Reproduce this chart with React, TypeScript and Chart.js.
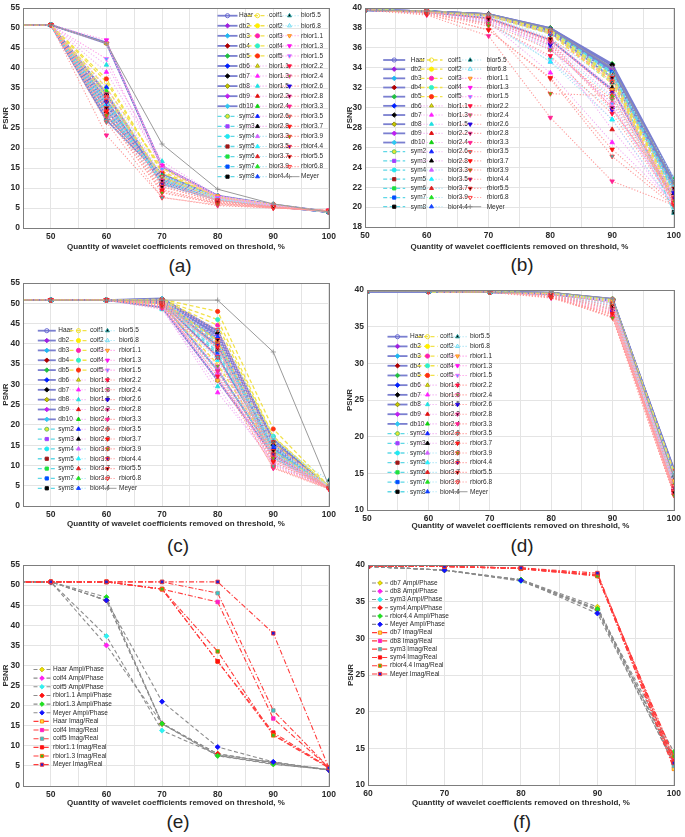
import React, { useEffect, useRef } from 'react';
import { Chart, registerables } from 'chart.js';
Chart.register(...registerables);

const FONT = "'Liberation Sans', Arial, Helvetica, sans-serif";

// ---------------- data ----------------
const WAVELETS = [
  'Haar', 'db2', 'db3', 'db4', 'db5', 'db6', 'db7', 'db8', 'db9', 'db10',
  'sym2', 'sym3', 'sym4', 'sym5', 'sym6', 'sym7', 'sym8',
  'coif1', 'coif2', 'coif3', 'coif4', 'coif5',
  'bior1.1', 'bior1.3', 'bior1.5', 'bior2.2', 'bior2.4', 'bior2.6', 'bior2.8',
  'bior3.3', 'bior3.5', 'bior3.7', 'bior3.9', 'bior4.4', 'bior5.5', 'bior6.8',
  'rbior1.1', 'rbior1.3', 'rbior1.5', 'rbior2.2', 'rbior2.4', 'rbior2.6', 'rbior2.8',
  'rbior3.3', 'rbior3.5', 'rbior3.7', 'rbior3.9', 'rbior4.4', 'rbior5.5', 'rbior6.8',
  'Meyer',
];

const X_A = [40, 50, 60, 70, 80, 90, 100];
const X_B = [50, 60, 70, 80, 90, 100];
const X_C = [40, 50, 60, 70, 80, 90, 100];
const X_D = [50, 60, 70, 80, 90, 100];
const X_E = [40, 50, 60, 70, 80, 90, 100];
const X_F = [60, 70, 80, 90, 100];

const X_LABELS_50 = [50, 60, 70, 80, 90, 100];
const X_LABELS_60 = [60, 70, 80, 90, 100];

const PSNR_A = [
  [50.8, 50.8, 46.2, 15.5, 8.0, 5.8, 4.0],
  [50.8, 50.8, 46.4, 15.3, 8.1, 5.9, 4.1],
  [50.8, 50.8, 30.5, 13.0, 7.6, 5.7, 4.1],
  [50.8, 50.8, 33.7, 12.0, 7.3, 5.6, 4.0],
  [50.8, 50.8, 29.5, 12.5, 7.5, 5.6, 4.1],
  [50.8, 50.8, 31.0, 12.2, 7.4, 5.5, 4.0],
  [50.8, 50.8, 33.5, 11.5, 7.2, 5.5, 4.0],
  [50.8, 50.8, 28.0, 13.5, 7.7, 5.7, 4.1],
  [50.8, 50.8, 32.0, 11.0, 7.1, 5.4, 4.0],
  [50.8, 50.8, 27.0, 12.8, 7.6, 5.6, 4.0],
  [50.8, 50.8, 31.5, 13.2, 7.6, 5.7, 4.1],
  [50.8, 50.8, 32.5, 12.5, 7.4, 5.6, 4.0],
  [50.8, 50.8, 30.0, 11.8, 7.3, 5.5, 4.0],
  [50.8, 50.8, 33.0, 12.3, 7.5, 5.6, 4.1],
  [50.8, 50.8, 28.5, 13.0, 7.6, 5.7, 4.0],
  [50.8, 50.8, 31.2, 11.2, 7.2, 5.5, 4.0],
  [50.8, 50.8, 29.0, 12.0, 7.4, 5.6, 4.0],
  [50.8, 50.8, 36.5, 14.2, 7.8, 5.8, 4.1],
  [50.8, 50.8, 34.0, 12.5, 7.5, 5.6, 4.0],
  [50.8, 50.8, 32.8, 12.8, 7.4, 5.6, 4.0],
  [50.8, 50.8, 35.0, 15.0, 7.7, 5.8, 4.0],
  [50.8, 50.8, 37.3, 13.8, 7.8, 5.9, 4.0],
  [50.8, 50.8, 46.2, 15.5, 8.0, 5.8, 4.0],
  [50.8, 50.8, 39.0, 15.8, 7.9, 5.8, 4.1],
  [50.8, 50.8, 40.8, 16.7, 8.0, 5.9, 4.1],
  [50.8, 50.8, 29.8, 11.0, 7.0, 5.5, 4.0],
  [50.8, 50.8, 30.5, 11.5, 7.1, 5.5, 4.0],
  [50.8, 50.8, 35.2, 13.2, 7.5, 5.6, 4.1],
  [50.8, 50.8, 33.6, 12.0, 7.3, 5.5, 4.0],
  [50.8, 50.8, 28.0, 10.5, 6.8, 5.4, 4.0],
  [50.8, 50.8, 31.0, 11.5, 7.0, 5.5, 4.0],
  [50.8, 50.8, 33.0, 12.4, 7.2, 5.6, 4.0],
  [50.8, 50.8, 34.2, 13.0, 7.4, 5.6, 4.1],
  [50.8, 50.8, 30.2, 11.8, 7.3, 5.5, 4.0],
  [50.8, 50.8, 27.5, 11.0, 7.1, 5.4, 4.0],
  [50.8, 50.8, 32.3, 12.6, 7.5, 5.6, 4.1],
  [50.8, 50.8, 46.2, 15.5, 8.0, 5.8, 4.0],
  [50.8, 50.8, 47.0, 15.6, 7.6, 5.6, 4.2],
  [50.8, 50.8, 42.3, 14.8, 7.5, 5.6, 4.1],
  [50.8, 50.8, 29.3, 9.6, 6.3, 5.2, 4.3],
  [50.8, 50.8, 27.8, 9.0, 6.0, 5.1, 4.2],
  [50.8, 50.8, 31.5, 10.5, 6.5, 5.2, 4.1],
  [50.8, 50.8, 33.5, 11.8, 6.8, 5.3, 4.1],
  [50.8, 50.8, 23.2, 7.7, 5.6, 5.0, 4.5],
  [50.8, 50.8, 26.5, 7.6, 5.8, 5.0, 4.4],
  [50.8, 50.8, 29.0, 9.4, 6.2, 5.1, 4.3],
  [50.8, 50.8, 28.2, 8.8, 6.1, 5.1, 4.3],
  [50.8, 50.8, 31.8, 11.0, 6.9, 5.3, 4.1],
  [50.8, 50.8, 30.0, 10.3, 6.6, 5.2, 4.2],
  [50.8, 50.8, 32.8, 12.8, 7.0, 5.4, 4.3],
  [50.8, 50.8, 46.2, 21.0, 9.7, 6.0, 4.0],
];

const PSNR_B = [
  [39.8, 39.6, 39.0, 36.8, 31.8, 20.9],
  [39.8, 39.7, 39.3, 37.6, 33.0, 21.8],
  [39.8, 39.7, 39.3, 37.9, 33.8, 22.3],
  [39.8, 39.7, 39.4, 38.0, 34.2, 22.6],
  [39.8, 39.7, 39.4, 38.0, 34.4, 22.8],
  [39.8, 39.7, 39.4, 37.9, 34.0, 22.5],
  [39.8, 39.7, 39.4, 37.8, 34.3, 22.4],
  [39.8, 39.7, 39.3, 37.7, 33.7, 22.2],
  [39.8, 39.7, 39.3, 37.6, 33.9, 22.0],
  [39.8, 39.7, 39.3, 37.5, 33.5, 21.9],
  [39.8, 39.7, 39.3, 37.6, 33.0, 21.8],
  [39.8, 39.7, 39.3, 37.7, 33.2, 21.5],
  [39.8, 39.7, 39.3, 37.8, 33.5, 22.0],
  [39.8, 39.7, 39.3, 37.6, 33.1, 21.3],
  [39.8, 39.7, 39.3, 37.7, 33.4, 21.0],
  [39.8, 39.7, 39.3, 37.8, 33.6, 21.6],
  [39.8, 39.7, 39.3, 37.7, 33.3, 19.5],
  [39.8, 39.6, 39.2, 37.4, 32.4, 20.4],
  [39.8, 39.7, 39.3, 37.6, 32.8, 20.8],
  [39.8, 39.7, 39.3, 37.5, 32.6, 20.5],
  [39.8, 39.7, 39.3, 37.7, 33.0, 21.0],
  [39.8, 39.7, 39.3, 37.8, 33.2, 21.2],
  [39.8, 39.6, 39.0, 36.8, 31.8, 20.9],
  [39.8, 39.5, 38.6, 33.5, 26.5, 20.4],
  [39.8, 39.5, 38.4, 35.0, 28.8, 20.0],
  [39.8, 39.5, 38.7, 36.2, 27.8, 20.3],
  [39.8, 39.6, 38.9, 36.5, 31.2, 20.9],
  [39.8, 39.6, 39.0, 36.7, 31.6, 21.2],
  [39.8, 39.6, 39.1, 36.9, 32.0, 21.4],
  [39.8, 39.5, 38.5, 34.6, 29.8, 20.6],
  [39.8, 39.5, 38.7, 34.6, 28.8, 20.2],
  [39.8, 39.6, 38.8, 35.8, 30.5, 20.7],
  [39.8, 39.6, 39.0, 36.2, 31.0, 21.0],
  [39.8, 39.7, 39.3, 37.4, 33.0, 21.7],
  [39.8, 39.6, 39.2, 37.0, 32.5, 19.4],
  [39.8, 39.7, 39.3, 37.6, 33.4, 22.9],
  [39.8, 39.6, 39.0, 36.8, 31.8, 20.9],
  [39.8, 39.6, 38.8, 36.4, 30.0, 20.5],
  [39.8, 39.6, 38.7, 36.0, 30.4, 20.3],
  [39.8, 39.5, 38.4, 35.2, 29.4, 20.5],
  [39.8, 39.5, 38.5, 35.8, 30.8, 20.8],
  [39.8, 39.6, 38.9, 36.3, 29.8, 21.4],
  [39.8, 39.6, 39.0, 36.6, 30.0, 21.0],
  [39.8, 39.3, 37.2, 29.0, 22.6, 20.2],
  [39.8, 39.4, 37.8, 32.9, 25.1, 20.1],
  [39.8, 39.4, 37.8, 33.0, 25.8, 20.3],
  [39.8, 39.5, 38.2, 31.4, 31.2, 20.6],
  [39.8, 39.6, 39.0, 36.8, 31.6, 20.9],
  [39.8, 39.6, 38.9, 36.9, 33.0, 21.9],
  [39.8, 39.7, 39.3, 37.5, 32.6, 20.3],
  [39.8, 39.7, 39.4, 37.9, 34.0, 22.5],
];

const PSNR_C = [
  [50.8, 50.8, 50.8, 49.0, 31.0, 12.5, 4.6],
  [50.8, 50.8, 50.8, 50.0, 33.5, 13.0, 4.6],
  [50.8, 50.8, 50.8, 50.3, 36.8, 14.0, 4.7],
  [50.8, 50.8, 50.8, 50.5, 39.5, 14.5, 4.6],
  [50.8, 50.8, 50.8, 50.6, 41.0, 15.0, 4.7],
  [50.8, 50.8, 50.8, 50.8, 42.5, 15.5, 4.7],
  [50.8, 50.8, 50.8, 50.9, 41.5, 13.5, 4.6],
  [50.8, 50.8, 50.8, 51.0, 43.0, 16.0, 4.8],
  [50.8, 50.8, 50.8, 51.0, 42.0, 14.2, 4.7],
  [50.8, 50.8, 50.8, 51.2, 43.2, 16.5, 4.8],
  [50.8, 50.8, 50.8, 50.0, 33.5, 13.0, 4.6],
  [50.8, 50.8, 50.8, 50.4, 37.5, 13.2, 4.6],
  [50.8, 50.8, 50.8, 50.6, 40.0, 14.8, 4.7],
  [50.8, 50.8, 50.8, 50.7, 39.0, 12.0, 4.6],
  [50.8, 50.8, 50.8, 50.8, 41.0, 11.8, 4.6],
  [50.8, 50.8, 50.8, 50.8, 38.0, 13.8, 4.7],
  [50.8, 50.8, 50.8, 50.9, 40.5, 14.0, 4.7],
  [50.8, 50.8, 50.8, 49.8, 35.0, 13.5, 4.6],
  [50.8, 50.8, 50.8, 50.5, 40.8, 15.5, 4.7],
  [50.8, 50.8, 50.8, 50.7, 44.6, 17.0, 4.8],
  [50.8, 50.8, 50.8, 50.9, 46.0, 17.2, 4.8],
  [50.8, 50.8, 50.8, 51.0, 48.0, 19.0, 4.9],
  [50.8, 50.8, 50.8, 49.0, 31.0, 12.5, 4.6],
  [50.8, 50.8, 50.8, 48.8, 28.0, 11.0, 4.5],
  [50.8, 50.8, 50.8, 48.5, 29.5, 10.2, 4.5],
  [50.8, 50.8, 50.8, 49.5, 36.5, 12.0, 4.6],
  [50.8, 50.8, 50.8, 50.0, 39.0, 13.0, 4.6],
  [50.8, 50.8, 50.8, 50.4, 41.8, 14.5, 4.7],
  [50.8, 50.8, 50.8, 50.6, 42.8, 15.2, 4.7],
  [50.8, 50.8, 50.8, 48.8, 33.0, 10.5, 4.5],
  [50.8, 50.8, 50.8, 49.4, 36.0, 11.5, 4.6],
  [50.8, 50.8, 50.8, 49.8, 38.5, 12.5, 4.6],
  [50.8, 50.8, 50.8, 50.2, 40.0, 13.2, 4.7],
  [50.8, 50.8, 50.8, 50.8, 41.5, 14.8, 4.7],
  [50.8, 50.8, 50.8, 50.5, 38.5, 16.0, 6.3],
  [50.8, 50.8, 50.8, 50.9, 43.5, 16.8, 4.8],
  [50.8, 50.8, 50.8, 49.0, 31.0, 12.5, 4.6],
  [50.8, 50.8, 50.8, 49.2, 32.2, 11.5, 4.4],
  [50.8, 50.8, 50.8, 49.4, 33.8, 10.2, 4.3],
  [50.8, 50.8, 50.8, 49.6, 32.0, 9.5, 4.3],
  [50.8, 50.8, 50.8, 49.9, 34.5, 10.8, 4.4],
  [50.8, 50.8, 50.8, 50.2, 36.8, 11.5, 4.4],
  [50.8, 50.8, 50.8, 50.5, 38.8, 12.4, 4.5],
  [50.8, 50.8, 50.8, 48.8, 33.3, 9.3, 4.2],
  [50.8, 50.8, 50.8, 49.2, 36.8, 9.8, 4.3],
  [50.8, 50.8, 50.8, 49.6, 39.3, 11.0, 4.3],
  [50.8, 50.8, 50.8, 50.0, 40.2, 11.8, 4.4],
  [50.8, 50.8, 50.8, 50.3, 39.8, 12.8, 4.5],
  [50.8, 50.8, 50.8, 50.6, 41.0, 13.6, 4.5],
  [50.8, 50.8, 50.8, 50.8, 43.5, 15.8, 4.2],
  [50.8, 50.8, 50.8, 50.8, 50.8, 38.0, 5.0],
];

const PSNR_D = [
  [39.8, 39.8, 39.7, 39.4, 38.5, 14.0],
  [39.8, 39.8, 39.7, 39.5, 38.6, 14.5],
  [39.8, 39.8, 39.7, 39.6, 38.7, 15.2],
  [39.8, 39.8, 39.7, 39.6, 38.7, 14.8],
  [39.8, 39.8, 39.7, 39.6, 38.8, 15.0],
  [39.8, 39.8, 39.7, 39.6, 38.6, 14.2],
  [39.8, 39.8, 39.7, 39.6, 38.7, 13.8],
  [39.8, 39.8, 39.7, 39.6, 38.8, 15.4],
  [39.8, 39.8, 39.7, 39.6, 38.6, 15.6],
  [39.8, 39.8, 39.7, 39.6, 38.7, 15.5],
  [39.8, 39.8, 39.7, 39.5, 38.5, 14.3],
  [39.8, 39.8, 39.7, 39.5, 38.4, 13.9],
  [39.8, 39.8, 39.7, 39.6, 38.6, 14.6],
  [39.8, 39.8, 39.7, 39.5, 38.3, 13.6],
  [39.8, 39.8, 39.7, 39.6, 38.5, 14.1],
  [39.8, 39.8, 39.7, 39.6, 38.6, 14.4],
  [39.8, 39.8, 39.7, 39.6, 38.5, 13.7],
  [39.8, 39.8, 39.7, 39.5, 38.4, 14.2],
  [39.8, 39.8, 39.7, 39.6, 38.6, 14.7],
  [39.8, 39.8, 39.7, 39.6, 38.7, 15.1],
  [39.8, 39.8, 39.7, 39.6, 38.6, 14.9],
  [39.8, 39.8, 39.7, 39.6, 38.7, 15.3],
  [39.8, 39.8, 39.7, 39.4, 38.5, 14.0],
  [39.8, 39.8, 39.7, 39.3, 38.0, 13.5],
  [39.8, 39.8, 39.7, 39.2, 37.6, 13.2],
  [39.8, 39.8, 39.7, 39.3, 37.8, 13.0],
  [39.8, 39.8, 39.7, 39.4, 38.1, 13.4],
  [39.8, 39.8, 39.7, 39.5, 38.3, 13.8],
  [39.8, 39.8, 39.7, 39.5, 38.4, 14.0],
  [39.8, 39.8, 39.7, 39.1, 37.4, 12.8],
  [39.8, 39.8, 39.7, 39.2, 37.6, 13.1],
  [39.8, 39.8, 39.7, 39.3, 37.9, 13.3],
  [39.8, 39.8, 39.7, 39.4, 38.0, 13.6],
  [39.8, 39.8, 39.7, 39.6, 38.6, 14.6],
  [39.8, 39.8, 39.7, 39.5, 38.4, 14.7],
  [39.8, 39.8, 39.7, 39.6, 38.7, 15.0],
  [39.8, 39.8, 39.7, 39.4, 38.5, 14.0],
  [39.8, 39.8, 39.7, 39.2, 37.2, 12.9],
  [39.8, 39.8, 39.7, 39.1, 36.9, 12.6],
  [39.8, 39.8, 39.7, 39.0, 36.6, 12.4],
  [39.8, 39.8, 39.7, 39.1, 36.3, 12.1],
  [39.8, 39.8, 39.7, 39.2, 37.0, 12.7],
  [39.8, 39.8, 39.7, 39.3, 37.3, 12.9],
  [39.8, 39.8, 39.7, 38.9, 36.4, 12.3],
  [39.8, 39.8, 39.7, 39.0, 36.7, 12.5],
  [39.8, 39.8, 39.7, 39.0, 36.8, 12.6],
  [39.8, 39.8, 39.7, 39.1, 36.2, 12.0],
  [39.8, 39.8, 39.7, 39.3, 37.5, 13.0],
  [39.8, 39.8, 39.7, 39.4, 37.8, 12.4],
  [39.8, 39.8, 39.7, 39.5, 38.2, 13.3],
  [39.8, 39.8, 39.7, 39.7, 38.8, 14.5],
];

const NAMES_E = [
  'Haar Ampl/Phase', 'coif4 Ampl/Phase', 'coif5 Ampl/Phase', 'rbior1.1 Ampl/Phase', 'rbior1.3 Ampl/Phase', 'Meyer Ampl/Phase',
  'Haar Imag/Real', 'coif4 Imag/Real', 'coif5 Imag/Real', 'rbior1.1 Imag/Real', 'rbior1.3 Imag/Real', 'Meyer Imag/Real',
];
const PSNR_E = [
  [50.8, 50.8, 46.2, 15.5, 8.0, 5.8, 4.0],
  [50.8, 50.8, 35.0, 15.6, 7.6, 5.5, 4.0],
  [50.8, 50.8, 37.3, 13.8, 7.8, 5.9, 4.0],
  [50.8, 50.8, 46.2, 15.5, 8.0, 5.8, 4.0],
  [50.8, 50.8, 47.0, 15.5, 7.5, 5.4, 4.1],
  [50.8, 50.8, 46.2, 21.0, 9.7, 6.0, 4.0],
  [50.8, 50.8, 50.8, 49.0, 31.0, 12.8, 4.6],
  [50.8, 50.8, 50.8, 49.0, 45.8, 16.8, 4.6],
  [50.8, 50.8, 50.8, 50.8, 48.0, 18.8, 4.6],
  [50.8, 50.8, 50.8, 49.0, 31.0, 13.3, 4.6],
  [50.8, 50.8, 50.8, 49.0, 33.5, 12.6, 4.5],
  [50.8, 50.8, 50.8, 50.8, 50.8, 38.0, 4.5],
];

const NAMES_F = [
  'db7 Ampl/Phase', 'db8 Ampl/Phase', 'sym3 Ampl/Phase', 'sym4 Ampl/Phase', 'rbior4.4 Ampl/Phase', 'Meyer Ampl/Phase',
  'db7 Imag/Real', 'db8 Imag/Real', 'sym3 Imag/Real', 'sym4 Imag/Real', 'rbior4.4 Imag/Real', 'Meyer Imag/Real',
];
const PSNR_F = [
  [39.8, 39.3, 38.0, 34.3, 13.2],
  [39.8, 39.3, 37.9, 34.0, 13.5],
  [39.8, 39.3, 37.8, 33.8, 12.8],
  [39.8, 39.3, 37.9, 33.9, 13.8],
  [39.8, 39.3, 38.0, 34.0, 14.5],
  [39.8, 39.3, 37.9, 33.4, 13.0],
  [39.8, 39.8, 39.6, 38.6, 12.2],
  [39.8, 39.8, 39.6, 38.7, 13.6],
  [39.8, 39.8, 39.5, 38.5, 12.6],
  [39.8, 39.8, 39.5, 38.6, 13.2],
  [39.8, 39.8, 39.5, 38.5, 13.9],
  [39.8, 39.8, 39.6, 38.9, 13.0],
];

// ---------------- styles ----------------
const NONE = 'rgba(0,0,0,0)';
const MARK: Record<string, [string, string]> = {
  'Haar': [NONE, '#6060d0'], 'db2': ['#a020e0', '#a020e0'], 'db3': ['#20b8f0', '#20b8f0'],
  'db4': ['#b00000', '#b00000'], 'db5': ['#20c040', '#20c040'], 'db6': ['#0020ff', '#0020ff'],
  'db7': ['#000000', '#000000'], 'db8': ['#c8c800', '#888800'], 'db9': ['#c020f0', '#c020f0'],
  'db10': ['#30c8f0', '#30c8f0'],
  'sym2': ['#e8e830', '#60c060'], 'sym3': ['#a040ff', '#a040ff'], 'sym4': ['#20e8f0', '#20e8f0'],
  'sym5': ['#a01818', '#a01818'], 'sym6': ['#20e040', '#20e040'], 'sym7': ['#0050ff', '#0050ff'],
  'sym8': ['#000000', '#000000'],
  'coif1': [NONE, '#f0e020'], 'coif2': ['#ffee00', '#ffee00'], 'coif3': ['#ff20b0', '#ff20b0'],
  'coif4': ['#30f0c8', '#30f0c8'], 'coif5': ['#ff3010', '#ff3010'],
  'bior1.1': ['#e8e820', '#a0a000'], 'bior1.3': ['#ff20ff', '#ff20ff'], 'bior1.5': ['#20e0e0', '#20e0e0'],
  'bior2.2': ['#e01010', '#e01010'], 'bior2.4': ['#10d010', '#10d010'], 'bior2.6': ['#1020ff', '#1020ff'],
  'bior2.8': ['#000000', '#000000'], 'bior3.3': ['#d060ff', '#d060ff'], 'bior3.5': ['#20f0ff', '#20f0ff'],
  'bior3.7': ['#e02020', '#e02020'], 'bior3.9': ['#20e020', '#20e020'], 'bior4.4': ['#1040ff', '#1040ff'],
  'bior5.5': ['#000000', '#20a0a0'], 'bior6.8': [NONE, '#60d8f0'],
  'rbior1.1': ['#ffd040', '#ff8020'], 'rbior1.3': ['#ff10f0', '#ff10f0'], 'rbior1.5': ['#40b0ff', '#ff60ff'],
  'rbior2.2': ['#ff1040', '#ff1040'], 'rbior2.4': ['#40c020', '#ff40a0'], 'rbior2.6': ['#2000e0', '#2000e0'],
  'rbior2.8': ['#200010', '#ff40a0'], 'rbior3.3': ['#ff2090', '#ff2090'], 'rbior3.5': ['#30b0b0', '#ff4040'],
  'rbior3.7': ['#ff1010', '#ff1010'], 'rbior3.9': ['#40c010', '#ff3030'], 'rbior4.4': ['#3010c0', '#ff3030'],
  'rbior5.5': ['#100000', '#ff3030'], 'rbior6.8': [NONE, '#ff3030'],
  'Meyer': [NONE, '#8a8a8a'],
};

type St = { line: string; dash: number[]; lw: number; shape: string; rot: number; r: number; fill: string; edge: string };

function waveletStyle(n: string): St {
  const [fill, edge] = MARK[n];
  if (n === 'Haar' || n.startsWith('db')) {
    return { line: '#7a7fd0', dash: [], lw: 1.8, shape: n === 'Haar' ? 'circle' : 'rectRot', rot: 0, r: n === 'Haar' ? 2.1 : 2.5, fill, edge };
  }
  if (n.startsWith('sym')) {
    return { line: '#5fd8e6', dash: [4, 2.5], lw: 1.3, shape: n === 'sym2' || n === 'sym4' ? 'circle' : 'rect', rot: 0, r: n === 'sym2' || n === 'sym4' ? 2.0 : 2.4, fill, edge };
  }
  if (n.startsWith('coif')) {
    return { line: '#f2e24a', dash: [4, 2.5], lw: 1.3, shape: 'circle', rot: 0, r: 2.1, fill, edge };
  }
  if (n.startsWith('bior')) {
    const early = n < 'bior3';
    return { line: early ? '#f2b0f2' : '#a9e4f5', dash: [1.2, 1.8], lw: 1.1, shape: 'triangle', rot: 0, r: 2.6, fill, edge };
  }
  if (n.startsWith('rbior')) {
    const early = n < 'rbior2';
    return { line: early ? '#ff9ae8' : '#ff9a9a', dash: [1.2, 1.8], lw: 1.1, shape: 'triangle', rot: 180, r: 2.6, fill, edge };
  }
  return { line: '#9a9a9a', dash: [], lw: 1, shape: 'cross', rot: 0, r: 2.6, fill, edge };
}

const MARK_EF: [string, string][] = [
  ['#f0e800', '#c0b000'], ['#ff20f0', '#ff20f0'], ['#30f0f0', '#30f0f0'],
  ['#ff1010', '#ff1010'], ['#20e020', '#20e020'], ['#1010ff', '#1010ff'],
  ['#ffe040', '#ff8000'], ['#ff20c0', '#ff20c0'], ['#30c8c8', '#909090'],
  ['#ff1010', '#ff1010'], ['#30c020', '#ff6000'], ['#2020d0', '#ff3030'],
];

function compareStyle(i: number): St {
  const [fill, edge] = MARK_EF[i];
  if (i < 6) return { line: '#8c8c8c', dash: [4, 2.5], lw: 1.1, shape: 'rectRot', rot: 0, r: 2.6, fill, edge };
  return { line: '#ff3b3b', dash: [5, 2, 1.2, 2], lw: 1.1, shape: 'rect', rot: 0, r: 2.5, fill, edge };
}

// ---------------- panels ----------------
type Panel = {
  id: string; cx: number; cy: number; cw: number;
  area: { l: number; t: number; r: number; b: number };
  yTitleX: number; xTitleY: number; label: { x: number; y: number };
  xs: number[]; names: string[]; values: number[][]; style: (n: string, i: number) => St;
  xMin: number; xMax: number; xLabels: number[];
  yMin: number; yMax: number; yStep: number;
  legend: { textX: number[]; mOff: number; half: number; y0: number; pitch: number; perCol: number; fs: number };
};

const wStyle = (n: string) => waveletStyle(n);
const cStyle = (_n: string, i: number) => compareStyle(i);

const PANELS: Panel[] = [
  {
    id: '(a)', cx: 0, cy: 0, cw: 340, area: { l: 23, t: 6, r: 331, b: 228 }, yTitleX: 6, xTitleY: 247, label: { x: 180, y: 265 },
    xs: X_A, names: WAVELETS, values: PSNR_A, style: wStyle, xMin: 45, xMax: 100, xLabels: X_LABELS_50, yMin: 0, yMax: 55, yStep: 5,
    legend: { textX: [239, 269, 301], mOff: 11.5, half: 10, y0: 15.7, pitch: 10.06, perCol: 17, fs: 6.5 },
  },
  {
    id: '(b)', cx: 340, cy: 0, cw: 345, area: { l: 365, t: 6, r: 676, b: 227 }, yTitleX: 350, xTitleY: 247, label: { x: 522, y: 264 },
    xs: X_B, names: WAVELETS, values: PSNR_B, style: wStyle, xMin: 50, xMax: 100, xLabels: X_LABELS_50, yMin: 18, yMax: 40, yStep: 2,
    legend: { textX: [410.7, 448, 486.7], mOff: 16.5, half: 11, y0: 60, pitch: 9.17, perCol: 17, fs: 6.5 },
  },
  {
    id: '(c)', cx: 0, cy: 275, cw: 340, area: { l: 23, t: 283, r: 332, b: 506 }, yTitleX: 6, xTitleY: 524, label: { x: 178, y: 545 },
    xs: X_C, names: WAVELETS, values: PSNR_C, style: wStyle, xMin: 45, xMax: 100, xLabels: X_LABELS_50, yMin: 0, yMax: 55, yStep: 5,
    legend: { textX: [58.3, 90, 119], mOff: 11.5, half: 9, y0: 330.7, pitch: 9.85, perCol: 17, fs: 6.5 },
  },
  {
    id: '(d)', cx: 340, cy: 275, cw: 345, area: { l: 367, t: 290, r: 677, b: 510 }, yTitleX: 350, xTitleY: 526, label: { x: 522, y: 545 },
    xs: X_D, names: WAVELETS, values: PSNR_D, style: wStyle, xMin: 50, xMax: 100, xLabels: X_LABELS_50, yMin: 10, yMax: 40, yStep: 5,
    legend: { textX: [410, 440, 470], mOff: 12.5, half: 10, y0: 336.7, pitch: 9.69, perCol: 17, fs: 6.5 },
  },
  {
    id: '(e)', cx: 0, cy: 555, cw: 340, area: { l: 23, t: 565, r: 333, b: 786 }, yTitleX: 6, xTitleY: 803, label: { x: 178, y: 821 },
    xs: X_E, names: NAMES_E, values: PSNR_E, style: cStyle, xMin: 45, xMax: 100, xLabels: X_LABELS_50, yMin: 0, yMax: 55, yStep: 5,
    legend: { textX: [53], mOff: 11, half: 8.5, y0: 669.5, pitch: 8.65, perCol: 12, fs: 6.5 },
  },
  {
    id: '(f)', cx: 340, cy: 555, cw: 345, area: { l: 368, t: 565, r: 678, b: 785 }, yTitleX: 351, xTitleY: 803, label: { x: 522, y: 821 },
    xs: X_F, names: NAMES_F, values: PSNR_F, style: cStyle, xMin: 60, xMax: 100, xLabels: X_LABELS_60, yMin: 10, yMax: 40, yStep: 5,
    legend: { textX: [390], mOff: 10, half: 8, y0: 583, pitch: 8.27, perCol: 12, fs: 6.5 },
  },
];

function drawMarker(ctx: CanvasRenderingContext2D, s: St, x: number, y: number) {
  ctx.save();
  ctx.translate(x, y);
  ctx.rotate((s.rot * Math.PI) / 180);
  ctx.beginPath();
  const r = s.r;
  if (s.shape === 'circle') ctx.arc(0, 0, r, 0, Math.PI * 2);
  else if (s.shape === 'rect') { const h = r * Math.SQRT1_2; ctx.rect(-h, -h, 2 * h, 2 * h); }
  else if (s.shape === 'rectRot') { ctx.moveTo(0, -r); ctx.lineTo(r, 0); ctx.lineTo(0, r); ctx.lineTo(-r, 0); ctx.closePath(); }
  else if (s.shape === 'triangle') {
    for (let k = 0; k < 3; k++) {
      const a = -Math.PI / 2 + (k * 2 * Math.PI) / 3;
      const px = Math.cos(a) * r, py = Math.sin(a) * r;
      if (k === 0) ctx.moveTo(px, py); else ctx.lineTo(px, py);
    }
    ctx.closePath();
  } else if (s.shape === 'cross') { ctx.moveTo(-r, 0); ctx.lineTo(r, 0); ctx.moveTo(0, -r); ctx.lineTo(0, r); }
  if (s.shape !== 'cross') { ctx.fillStyle = s.fill; ctx.fill(); }
  ctx.strokeStyle = s.edge; ctx.lineWidth = 0.9; ctx.stroke();
  ctx.restore();
}

function PanelChart({ p }: { p: Panel }) {
  const ref = useRef<HTMLCanvasElement | null>(null);
  const height = Math.round(p.xTitleY - p.cy + 6);
  useEffect(() => {
    if (!ref.current) return;
    const yW = p.area.l - p.cx;
    const xH = height - (p.area.b - p.cy);
    const styles = p.names.map((n, i) => p.style(n, i));
    const datasets = p.names.map((n, i) => {
      const s = styles[i];
      return {
        label: n,
        data: p.xs.map((x, j) => ({ x, y: p.values[i][j] })),
        borderColor: s.line, borderWidth: s.lw, borderDash: s.dash,
        pointStyle: s.shape, pointRotation: s.rot, pointRadius: s.r,
        pointBackgroundColor: s.fill, pointBorderColor: s.edge, pointBorderWidth: 0.8,
        fill: false, tension: 0, order: p.names.length - i,
      };
    });
    const boxPlugin = {
      id: 'box' + p.id,
      afterDraw(chart: any) {
        const { ctx, chartArea: a } = chart;
        ctx.save();
        ctx.strokeStyle = '#7d7d7d'; ctx.lineWidth = 1;
        ctx.strokeRect(Math.round(a.left) + 0.5, Math.round(a.top) + 0.5, Math.round(a.right - a.left), Math.round(a.bottom - a.top));
        ctx.restore();
      },
    };
    const lg = p.legend;
    const legendPlugin = {
      id: 'mlegend' + p.id,
      afterDatasetsDraw(chart: any) {
        const ctx: CanvasRenderingContext2D = chart.ctx;
        ctx.save();
        p.names.forEach((n, i) => {
          const s = styles[i];
          const col = Math.floor(i / lg.perCol);
          const row = i % lg.perCol;
          const tx = lg.textX[col] - p.cx;
          const y = lg.y0 + row * lg.pitch - p.cy;
          const mx = tx - lg.mOff;
          ctx.strokeStyle = s.line; ctx.lineWidth = s.lw; ctx.setLineDash(s.dash);
          ctx.beginPath(); ctx.moveTo(mx - lg.half, y); ctx.lineTo(mx + lg.half, y); ctx.stroke();
          ctx.setLineDash([]);
          drawMarker(ctx, { ...s, r: Math.min(s.r, 2.3) }, mx, y);
          ctx.fillStyle = '#2a2a2a';
          ctx.font = `${lg.fs}px ${FONT}`;
          ctx.textBaseline = 'middle'; ctx.textAlign = 'left';
          ctx.fillText(n, tx, y);
        });
        ctx.restore();
      },
    };
    const tickFont = { family: FONT, size: 8.5, weight: 'bold' as const };
    const titleFont = { family: FONT, size: 8, weight: 'bold' as const };
    const chart = new Chart(ref.current, {
      type: 'line',
      data: { datasets: datasets as any },
      options: {
        animation: false,
        responsive: false,
        maintainAspectRatio: false,
        events: [],
        layout: { padding: { left: 0, top: p.area.t - p.cy, right: p.cw - (p.area.r - p.cx), bottom: 0 } },
        plugins: { legend: { display: false }, tooltip: { enabled: false }, title: { display: false } },
        scales: {
          x: {
            type: 'linear', min: p.xMin, max: p.xMax,
            afterFit: (sc: any) => { sc.height = xH; },
            grid: { color: '#e4e4e4', lineWidth: 1, drawTicks: false },
            border: { display: false },
            ticks: {
              stepSize: 5, autoSkip: false, maxRotation: 0, minRotation: 0, padding: 4,
              color: '#2a2a2a', font: tickFont,
              callback: (v: any) => (p.xLabels.includes(Number(v)) ? String(v) : ''),
            },
            title: {
              display: true, text: 'Quantity of wavelet coefficients removed on threshold, %',
              color: '#2a2a2a', font: titleFont, padding: { top: 0, bottom: 1.2 },
            },
          },
          y: {
            type: 'linear', min: p.yMin, max: p.yMax,
            afterFit: (sc: any) => { sc.width = yW; },
            grid: { color: '#e4e4e4', lineWidth: 1, drawTicks: false },
            border: { display: false },
            ticks: { stepSize: p.yStep, autoSkip: false, padding: 3, color: '#2a2a2a', font: tickFont },
            title: {
              display: true, text: 'PSNR', color: '#2a2a2a', font: titleFont,
              padding: { top: p.yTitleX - p.cx - 4.8, bottom: 0 },
            },
          },
        },
      },
      plugins: [boxPlugin, legendPlugin],
    });
    return () => chart.destroy();
  }, []);
  return (
    <>
      <canvas
        ref={ref}
        width={p.cw}
        height={height}
        style={{ position: 'absolute', left: p.cx, top: p.cy, width: p.cw, height }}
      />
      <div
        style={{
          position: 'absolute', left: p.label.x, top: p.label.y, transform: 'translate(-50%, -50%)',
          fontFamily: FONT, fontSize: 19, color: '#222', whiteSpace: 'nowrap', lineHeight: 1,
        }}
      >
        {p.id}
      </div>
    </>
  );
}

export default function App() {
  return (
    <div style={{ position: 'absolute', left: 0, top: 0, width: 685, height: 837, background: '#fff', overflow: 'hidden' }}>
      {PANELS.map((p) => (
        <PanelChart key={p.id} p={p} />
      ))}
    </div>
  );
}
